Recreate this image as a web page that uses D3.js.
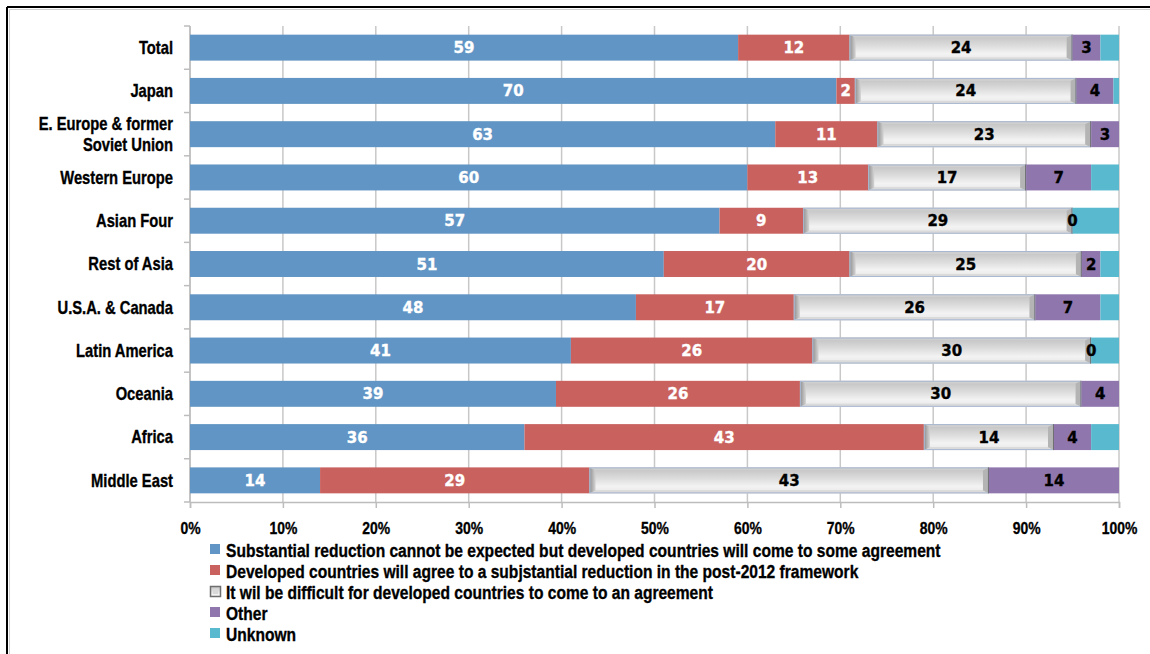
<!DOCTYPE html>
<html>
<head>
<meta charset="utf-8">
<script src="https://cdn.jsdelivr.net/npm/d3@7"></script>
<style>
  html, body { margin: 0; padding: 0; background: #fff; }
  svg { display: block; }
  .cond { font-family: "Liberation Sans", Arial, sans-serif; font-weight: bold; stroke: #000; stroke-width: 0.35px; }
  .val { font-family: "DejaVu Sans", sans-serif; font-weight: bold; font-size: 15px; stroke-width: 0.35px; }
</style>
</head>
<body>
<svg id="chart" width="1150" height="654"></svg>
<script>
// Regions, top to bottom
const regions = [
  "Total", "Japan", "E. Europe & former\nSoviet Union", "Western Europe", "Asian Four",
  "Rest of Asia", "U.S.A. & Canada", "Latin America", "Oceania", "Africa", "Middle East"
];

// Answer shares (%) per region, one array per answer
const agreeNoReduction   = [59, 70, 63, 60, 57, 51, 48, 41, 39, 36, 14];
const substantialCut     = [12,  2, 11, 13,  9, 20, 17, 26, 26, 43, 29];
const difficult          = [24, 24, 23, 17, 29, 25, 26, 30, 30, 14, 43];
const other              = [ 3,  4,  3,  7,  0,  2,  7,  0,  4,  4, 14];
const unknown            = [ 2, 0.6, 0,  3,  5,  2,  2,  3,  0,  3,  0];

const seriesNames = [
  "Substantial reduction cannot be expected but developed countries will come to some agreement",
  "Developed countries will agree to a subjstantial reduction in the post-2012 framework",
  "It wil be difficult for developed countries to come to an agreement",
  "Other",
  "Unknown"
];
const seriesKeys = ["s0", "s1", "s2", "s3", "s4"];
const seriesColors = ["#6195c5", "#c9625f", "#e6e6e6", "#8f77ae", "#58b9cf"];
const labelColors = ["#fff", "#fff", "#000", "#000", null];

const xTicks = [0, 0.1, 0.2, 0.3, 0.4, 0.5, 0.6, 0.7, 0.8, 0.9, 1];

const rows = regions.map((r, i) => ({
  region: r,
  s0: agreeNoReduction[i], s1: substantialCut[i], s2: difficult[i], s3: other[i], s4: unknown[i]
}));

const SQUEEZE = 0.82;   // horizontal compression for the condensed bold type

const svg = d3.select("#chart");

// Frame
svg.append("line").attr("x1", 7).attr("x2", 1150).attr("y1", 7).attr("y2", 7)
  .attr("stroke", "#000").attr("stroke-width", 2);
svg.append("line").attr("x1", 7).attr("x2", 7).attr("y1", 7).attr("y2", 654)
  .attr("stroke", "#000").attr("stroke-width", 2);
svg.append("line").attr("x1", 9.5).attr("x2", 1150).attr("y1", 9.5).attr("y2", 9.5)
  .attr("stroke", "#d0d0d0").attr("stroke-width", 1);
svg.append("line").attr("x1", 9.5).attr("x2", 9.5).attr("y1", 9.5).attr("y2", 654)
  .attr("stroke", "#d0d0d0").attr("stroke-width", 1);

const x = d3.scaleLinear().domain([0, 1]).range([190, 1119]);
const y = d3.scaleBand().domain(regions).range([26, 502]).paddingInner(0.4).paddingOuter(0.2);

// Gradients for the bevelled "difficult" bars
const defs = svg.append("defs");
const g = defs.append("linearGradient").attr("id", "faceGrad").attr("x1", 0).attr("x2", 0).attr("y1", 0).attr("y2", 1);
g.append("stop").attr("offset", "0%").attr("stop-color", "#c8c8c8");
g.append("stop").attr("offset", "40%").attr("stop-color", "#dcdcdc");
g.append("stop").attr("offset", "80%").attr("stop-color", "#f3f3f3");
g.append("stop").attr("offset", "100%").attr("stop-color", "#ececec");
const gl = defs.append("linearGradient").attr("id", "leftGrad").attr("x1", 0).attr("x2", 1).attr("y1", 0).attr("y2", 0);
gl.append("stop").attr("offset", "0%").attr("stop-color", "#8e8e8e");
gl.append("stop").attr("offset", "100%").attr("stop-color", "#d4d4d4");

// Vertical gridlines
svg.append("g").selectAll("line").data(xTicks).join("line")
  .attr("x1", d => x(d)).attr("x2", d => x(d))
  .attr("y1", 26).attr("y2", 502)
  .attr("stroke", "#c8c8c8").attr("stroke-width", 1.5);

// Left axis line and category ticks
const step = (502 - 26) / regions.length;
svg.append("line").attr("x1", 190).attr("x2", 190).attr("y1", 26).attr("y2", 502)
  .attr("stroke", "#bdbdbd").attr("stroke-width", 1.5);
svg.append("g").selectAll("line").data(d3.range(regions.length + 1)).join("line")
  .attr("x1", 184).attr("x2", 190)
  .attr("y1", i => 26 + i * step).attr("y2", i => 26 + i * step)
  .attr("stroke", "#bdbdbd").attr("stroke-width", 1.5);

// Bottom axis
const xAxis = d3.axisBottom(x).tickValues(xTicks).tickFormat(d3.format(".0%")).tickSize(6).tickPadding(14);
const gx = svg.append("g").attr("transform", "translate(0,502)").call(xAxis);
gx.select(".domain").attr("stroke", "#bdbdbd").attr("stroke-width", 1.5);
gx.selectAll(".tick line").attr("stroke", "#bdbdbd").attr("stroke-width", 1.5);
gx.selectAll(".tick text").attr("class", "cond").attr("font-size", 17).attr("fill", "#000")
  .attr("transform", `scale(${SQUEEZE},1)`);

// Category labels
const catG = svg.append("g");
regions.forEach(r => {
  const lines = r.split("\n");
  const cy = y(r) + y.bandwidth() / 2;
  const lh = 21;
  lines.forEach((ln, k) => {
    catG.append("text").attr("class", "cond").attr("font-size", 18)
      .attr("text-anchor", "end").attr("fill", "#000")
      .attr("transform", `translate(173,${cy + (k - (lines.length - 1) / 2) * lh}) scale(${SQUEEZE},1)`)
      .attr("dy", "0.35em").text(ln);
  });
});

// Stacked, normalised to 100%
const stacked = d3.stack().keys(seriesKeys).offset(d3.stackOffsetExpand)(rows);

function bevelBar(sel, x0, x1, y0, h) {
  const y1 = y0 + h;
  const bx = Math.min(6, (x1 - x0) / 2), by = 3;
  sel.append("rect").attr("x", x0).attr("y", y0).attr("width", x1 - x0).attr("height", h)
    .attr("fill", "#c4c4c4");
  const poly = (pts, fill) => sel.append("polygon").attr("points", pts.map(p => p.join(",")).join(" ")).attr("fill", fill);
  poly([[x0, y0], [x1, y0], [x1 - bx, y0 + by], [x0 + bx, y0 + by]], "#cfcfcf");
  poly([[x0, y1], [x1, y1], [x1 - bx, y1 - by], [x0 + bx, y1 - by]], "#dadada");
  poly([[x0, y0], [x0 + bx, y0 + by], [x0 + bx, y1 - by], [x0, y1]], "url(#leftGrad)");
  poly([[x1, y0], [x1 - bx, y0 + by], [x1 - bx, y1 - by], [x1, y1]], "#b4b4b4");
  sel.append("rect").attr("x", x0 + bx).attr("y", y0 + by)
    .attr("width", Math.max(0, x1 - x0 - 2 * bx)).attr("height", h - 2 * by)
    .attr("fill", "url(#faceGrad)");
  sel.append("rect").attr("x", x0 + 0.5).attr("y", y0 + 0.5)
    .attr("width", Math.max(0, x1 - x0 - 1)).attr("height", h - 1)
    .attr("fill", "none").attr("stroke", "#a8b8d2").attr("stroke-width", 1);
  sel.append("line").attr("x1", x1 - 0.5).attr("x2", x1 - 0.5).attr("y1", y0).attr("y2", y1)
    .attr("stroke", "#6e6e6e").attr("stroke-width", 1);
}

const barsG = svg.append("g");
stacked.forEach((layer, si) => {
  layer.forEach(d => {
    const x0 = x(d[0]), x1 = x(d[1]);
    const yy = y(d.data.region), h = y.bandwidth();
    if (si === 2) {
      bevelBar(barsG.append("g"), x0, x1, yy, h);
    } else if (x1 > x0) {
      barsG.append("rect").attr("x", x0).attr("y", yy).attr("width", x1 - x0).attr("height", h)
        .attr("fill", seriesColors[si]);
    }
  });
});

// Value labels
const labG = svg.append("g");
stacked.forEach((layer, si) => {
  if (!labelColors[si]) return;
  layer.forEach(d => {
    const v = d.data[seriesKeys[si]];
    labG.append("text").attr("class", "val")
      .attr("x", (x(d[0]) + x(d[1])) / 2)
      .attr("y", y(d.data.region) + y.bandwidth() / 2)
      .attr("dy", "0.37em").attr("text-anchor", "middle")
      .attr("fill", labelColors[si]).attr("stroke", labelColors[si]).text(v);
  });
});

// Legend
const legG = svg.append("g");
seriesNames.forEach((name, i) => {
  const cy = 550 + i * 21;
  if (i === 2) {
    legG.append("rect").attr("x", 210.5).attr("y", cy - 5.5).attr("width", 10).attr("height", 10)
      .attr("fill", "url(#faceGrad)").attr("stroke", "#6e6e6e").attr("stroke-width", 1.5);
    legG.append("rect").attr("x", 213).attr("y", cy - 3).attr("width", 5).attr("height", 5)
      .attr("fill", "#d8d8d8");
  } else {
    legG.append("rect").attr("x", 210).attr("y", cy - 6).attr("width", 10).attr("height", 10)
      .attr("fill", seriesColors[i]);
  }
  legG.append("text").attr("class", "cond").attr("font-size", 19)
    .attr("transform", `translate(226,${cy}) scale(${SQUEEZE},1)`)
    .attr("dy", "0.35em").attr("fill", "#000").text(name);
});
</script>
</body>
</html>
